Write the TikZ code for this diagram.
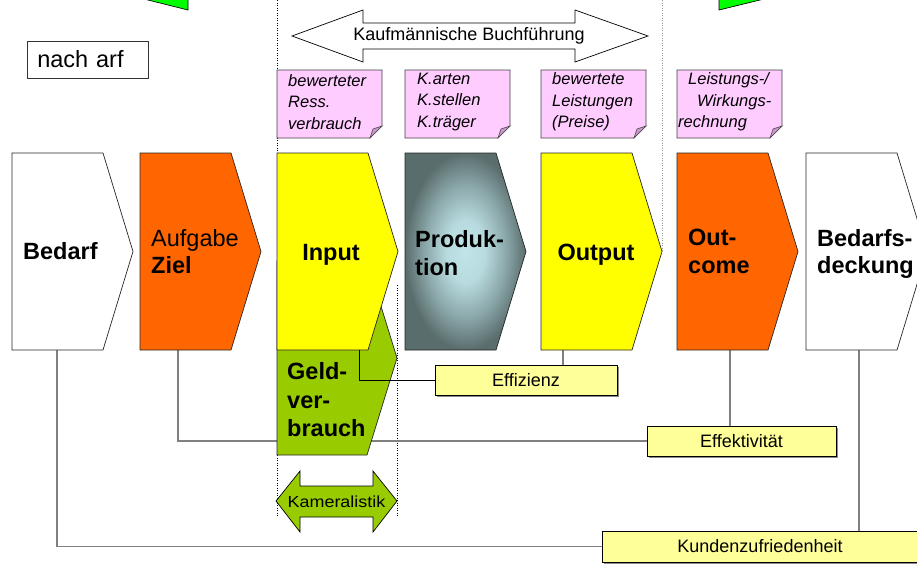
\documentclass[tikz,border=0pt]{standalone}
\usepackage{fontspec}
\setmainfont{Liberation Sans}
\usetikzlibrary{calc,shadows}
\definecolor{orng}{HTML}{FF6600}
\definecolor{yel}{HTML}{FFFF00}
\definecolor{geldgreen}{HTML}{99CC00}
\definecolor{brightgreen}{HTML}{00FF00}
\definecolor{notepink}{HTML}{FFCCFF}
\definecolor{notefold}{HTML}{CC99CC}
\definecolor{lblyel}{HTML}{FFFF99}
\definecolor{prodin}{HTML}{C0E4E8}
\definecolor{prodmid}{HTML}{8AA6A8}
\definecolor{prodout}{HTML}{5A6D6D}
\pgfdeclareradialshading{prodshade}{\pgfpoint{0bp}{0bp}}{%
  color(0bp)=(prodin); color(8bp)=(prodin!85!prodmid); color(17bp)=(prodmid); color(25bp)=(prodout); color(50bp)=(prodout)}
\pgfdeclarelayer{bg}
\pgfsetlayers{bg,main}
\tikzset{
  proc/.style={draw=black!85, line width=0.7pt},
  bigtxt/.style={font=\fontsize{23.5}{27.5}\selectfont, inner sep=0pt, align=left},
  bigbold/.style={font=\fontsize{23.5}{27.5}\selectfont\bfseries, inner sep=0pt, align=left},
  notetxt/.style={font=\fontsize{16.5}{21.5}\selectfont\itshape, inner sep=0pt, align=left},
  notebg/.style={draw=black!75, line width=0.6pt, fill=notepink},
  lbl/.style={draw=black, line width=0.7pt, fill=lblyel, font=\fontsize{18}{21}\selectfont, inner sep=0pt,
    drop shadow={shadow xshift=1.5pt, shadow yshift=-1.5pt, fill=black!45, opacity=1}},
  conn/.style={draw=black!50, line width=1.6pt},
  guide/.style={dotted, line width=0.5pt},
  bigarrow/.style={draw=black, line width=0.7pt}
}
\newcommand\pentagonshape[3]{%
  \path[proc,#3] (#1,153) -- ++(91,0) -- ++(30,98.5) -- ++(-30,98.5) -- ++(-91,0) -- cycle;
  \node[inner sep=0pt, minimum width=91pt, minimum height=197pt, anchor=north west] (#2) at (#1,153) {};}
\newcommand\notebox[2]{%
  \path[notebg] (#1,70) -- (#2,70) -- (#2,126) -- (#2-12,138) -- (#1,138) -- cycle;
  \path[draw=black!75, line width=0.5pt, fill=notefold] (#2,126) -- (#2-12,138) -- (#2-9,129) -- cycle;}
\begin{document}
\begin{tikzpicture}[x=1pt,y=-1pt]
\useasboundingbox (0,0) rectangle (917,563);
\clip (0,0) rectangle (917,563);

% green arrow fragments at top
\path[draw=black, line width=0.7pt, fill=brightgreen] (140,-2) -- (188,10) -- (188,-5) -- cycle;
\path[draw=black, line width=0.7pt, fill=brightgreen] (719,-5) -- (719,10) -- (768,-2) -- cycle;

% nach arf
\node[draw=black!80, line width=0.7pt, font=\fontsize{23.5}{27}\selectfont, anchor=west,
      text width=101pt, align=left, inner xsep=10pt, minimum height=37pt, inner ysep=0pt] (nacharf) at (27,59.5) {nach arf};

% Kaufmaennische Buchfuehrung arrow
\path[bigarrow, fill=white] (292,36) -- (363,10) -- (363,23) -- (575,23) -- (575,10) -- (648,36)
   -- (575,62) -- (575,49) -- (363,49) -- (363,62) -- cycle;
\node[font=\fontsize{18}{21}\selectfont, inner sep=0pt] (kaufm) at (469,36) {Kaufmännische Buchführung};

% process shapes
\path[proc, fill=geldgreen] (277,261) -- (367,261) -- (397,358) -- (367,455) -- (277,455) -- cycle;
\node[inner sep=0pt, minimum width=90pt, minimum height=194pt, anchor=north west] (geld) at (277,261) {};
\pentagonshape{12}{bedarf}{fill=white}
\pentagonshape{140}{aufgabe}{fill=orng}
\pentagonshape{277}{input}{fill=yel}
\pentagonshape{405}{produktion}{shading=prodshade}
\pentagonshape{541}{output}{fill=yel}
\pentagonshape{677}{outcome}{fill=orng}
\pentagonshape{806}{bedarfsd}{fill=white}

% label boxes
\node[lbl, minimum width=182pt, minimum height=30pt] (effizienz) at (526,380) {Effizienz};
\node[lbl, minimum width=189pt, minimum height=30pt] (effektiv) at (741.5,441) {Effektivität};
\node[lbl, minimum width=316pt, minimum height=31pt] (kunden) at (760,546.5) {Kundenzufriedenheit};

% connector anchor points
\coordinate (bedarfb) at ($(bedarf.south west)+(45,0)$);
\coordinate (aufgabeb) at ($(aufgabe.south west)+(38,0)$);
\coordinate (inputb) at ($(input.south west)+(82,0)$);
\coordinate (outputb) at ($(output.south west)+(22,0)$);
\coordinate (outcomeb) at ($(outcome.south west)+(53,0)$);
\coordinate (bedarfdb) at ($(bedarfsd.south west)+(53,0)$);

\begin{pgfonlayer}{bg}
  \draw[guide] (277,0) -- (277,517);
  \draw[guide] (397,285) -- (397,517);
  \draw[guide, black!40] (662,0) -- (662,252);
  \draw[conn] (bedarfb) |- (kunden.west);
  \draw[conn] (aufgabeb) |- (effektiv.west);
  \draw[conn] (outputb) -- (outputb |- effizienz.north);
  \draw[conn] (outcomeb) -- (outcomeb |- effektiv.north);
  \draw[conn] (bedarfdb) -- (bedarfdb |- kunden.north);
\end{pgfonlayer}
\draw[black, line width=0.8pt] (inputb) |- (effizienz.west);

% process texts
\node[bigbold, anchor=base west] (tbedarf) at (23,259) {Bedarf};
\node[bigtxt, anchor=west] (taufgabe) at (151,251.4) {Aufgabe\\\textbf{Ziel}};
\node[bigbold, anchor=base] (tinput) at (331,260) {Input};
\node[bigbold, anchor=west] (tprod) at (415,253) {Produk-\\tion};
\node[bigbold, anchor=base] (toutput) at (596,260) {Output};
\node[bigbold, anchor=west] (toutcome) at (688,251.5) {Out-\\come};
\node[bigbold, anchor=west] (tbedarfsd) at (817,254) {Bedarfs-\\deckung};
\node[bigbold, font=\fontsize{23.5}{28.5}\selectfont\bfseries, anchor=west] (tgeld) at (287,400) {Geld-\\ver-\\brauch};

% notes
\notebox{277}{382}
\notebox{405}{510}
\notebox{541}{646}
\notebox{677}{782}
\node[notetxt, anchor=west] (n1) at (288,102) {bewerteter\\Ress.\\verbrauch};
\node[notetxt, anchor=west] (n2) at (417,102) {K.arten\\K.stellen\\K.träger};
\node[notetxt, anchor=west] (n3) at (552,102) {bewertete\\Leistungen\\(Preise)};
\node[notetxt, anchor=west] (n4) at (678,102) {\hspace*{10pt}Leistungs-/\\\hspace*{19pt}Wirkungs-\\rechnung};

% Kameralistik arrow
\path[bigarrow, fill=geldgreen] (276,501) -- (300,471) -- (300,486) -- (373,486) -- (373,471) -- (397,501)
   -- (373,532) -- (373,517) -- (300,517) -- (300,532) -- cycle;
\node[font=\fontsize{16}{19}\selectfont, inner sep=0pt] (kameral) at (336.5,502) {\scalebox{1.12}[1]{Kameralistik}};
\end{tikzpicture}
\end{document}
